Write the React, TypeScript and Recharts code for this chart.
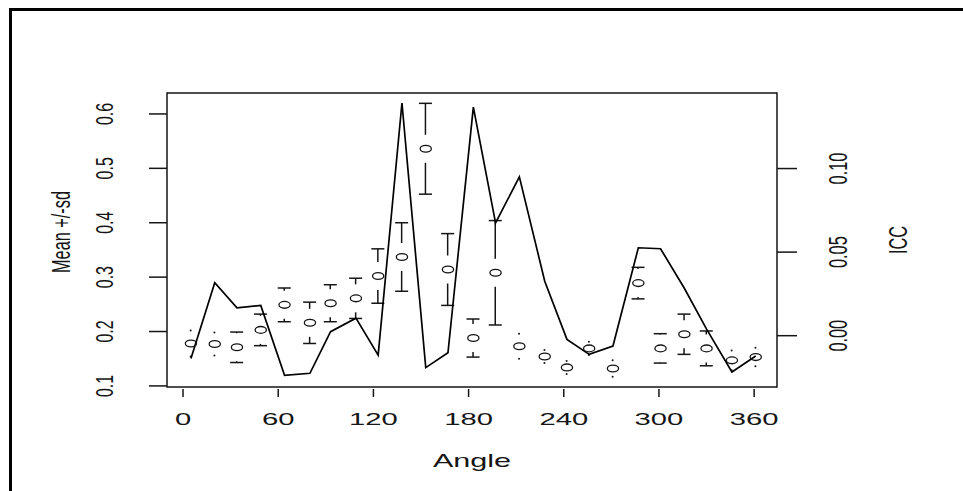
import React from 'react';
import { ComposedChart, Line, Scatter, Bar, XAxis, YAxis, ReferenceArea } from 'recharts';

const angles = [5, 20, 34, 49, 64, 80, 93, 109, 123, 138, 153, 167, 183, 197, 212, 228, 242, 256, 271, 287, 301, 316, 330, 346, 361];
const iccValues = [-0.0137, 0.0317, 0.0167, 0.0181, -0.0237, -0.0225, 0.0024, 0.0105, -0.0116, 0.1392, -0.0191, -0.0102, 0.1368, 0.0675, 0.095, 0.0326, -0.0022, -0.0112, -0.0062, 0.0526, 0.052, 0.0284, 0.0039, -0.0217, -0.0122];
const meanValues = [0.178, 0.177, 0.171, 0.203, 0.249, 0.216, 0.252, 0.261, 0.302, 0.337, 0.536, 0.314, 0.188, 0.308, 0.173, 0.154, 0.134, 0.169, 0.132, 0.289, 0.169, 0.195, 0.169, 0.147, 0.153];
const sdValues = [0.024, 0.021, 0.028, 0.029, 0.031, 0.038, 0.034, 0.037, 0.05, 0.063, 0.0835, 0.066, 0.035, 0.096, 0.023, 0.012, 0.012, 0.012, 0.015, 0.029, 0.027, 0.037, 0.032, 0.018, 0.017];

const xTicks = [0, 60, 120, 180, 240, 300, 360];
const leftTicks = [0.1, 0.2, 0.3, 0.4, 0.5, 0.6];
const rightTicks = [0, 0.05, 0.1];
const rightTickLabels = ['0.00', '0.05', '0.10'];

const xDomain = [-10.1, 374.4];
const leftDomain = [0.098, 0.6385];
const rightDomain = [-0.0307, 0.1452];

const data = angles.map((a, i) => ({
  angle: a,
  icc: iccValues[i],
  mean: meanValues[i],
  range: [meanValues[i] - sdValues[i], meanValues[i] + sdValues[i]],
}));

const FONT = '"Liberation Sans", Arial, Helvetica, sans-serif';
const INK = '#151515';

const XTick = (props: any) => {
  const { x, y, payload } = props;
  return (
    <g>
      <line x1={x} x2={x} y1={y + 2} y2={y + 10} stroke={INK} strokeWidth={1.5} />
      <text
        transform={`translate(${x},${y + 38}) scale(1.72,1)`}
        textAnchor="middle"
        fontFamily={FONT}
        fontSize={17}
        fill={INK}
      >
        {payload.value}
      </text>
    </g>
  );
};

const LeftTick = (props: any) => {
  const { x, y, payload } = props;
  return (
    <g>
      <line x1={x - 18} x2={x} y1={y} y2={y} stroke={INK} strokeWidth={1.5} />
      <text
        transform={`translate(${x - 54},${y}) rotate(-90) scale(1,1.5)`}
        textAnchor="middle"
        fontFamily={FONT}
        fontSize={16}
        fill={INK}
      >
        {String(payload.value)}
      </text>
    </g>
  );
};

const RightTick = (props: any) => {
  const { x, y, payload, index } = props;
  const lbl = rightTickLabels[rightTicks.indexOf(payload.value)] ?? String(payload.value);
  return (
    <g>
      <line x1={x} x2={x + 20} y1={y} y2={y} stroke={INK} strokeWidth={1.5} />
      <text
        transform={`translate(${x + 70},${y}) rotate(-90) scale(1,1.6)`}
        textAnchor="middle"
        fontFamily={FONT}
        fontSize={16.3}
        fill={INK}
      >
        {lbl}
      </text>
    </g>
  );
};

const MeanShape = (props: any) => {
  const { cx, cy } = props;
  if (cx == null || cy == null) return null;
  return <ellipse cx={cx} cy={cy} rx={5.6} ry={3.4} fill="none" stroke={INK} strokeWidth={1.3} />;
};

const GAP = 14;
const CAP = 6.5;

const ErrShape = (props: any) => {
  const { x, y, width, height } = props;
  if (x == null || y == null) return null;
  const cx = x + width / 2;
  const top = Math.min(y, y + height);
  const h = Math.abs(height);
  const center = top + h / 2;
  const bottom = top + h;
  const half = h / 2;
  const parts: any[] = [];
  if (half > GAP) {
    parts.push(<line key="u" x1={cx} x2={cx} y1={top} y2={center - GAP} stroke={INK} strokeWidth={1.5} />);
    parts.push(<line key="uc" x1={cx - CAP} x2={cx + CAP} y1={top} y2={top} stroke={INK} strokeWidth={1.5} />);
    parts.push(<line key="l" x1={cx} x2={cx} y1={center + GAP} y2={bottom} stroke={INK} strokeWidth={1.5} />);
    parts.push(<line key="lc" x1={cx - CAP} x2={cx + CAP} y1={bottom} y2={bottom} stroke={INK} strokeWidth={1.5} />);
  } else {
    parts.push(<circle key="ud" cx={cx} cy={top} r={1} fill={INK} />);
    parts.push(<circle key="ld" cx={cx} cy={bottom} r={1} fill={INK} />);
  }
  return <g>{parts}</g>;
};

export default function App() {
  return (
    <div style={{ position: 'absolute', left: 0, top: 0, width: 963, height: 491, background: '#fff' }}>
      <div
        style={{
          position: 'absolute',
          left: 9,
          top: 8,
          right: 0,
          bottom: 0,
          borderTop: '3px solid #000',
          borderLeft: '3px solid #000',
        }}
      />
      <div style={{ position: 'absolute', left: 0, top: 0 }}>
        <ComposedChart width={963} height={491} data={data} margin={{ top: 93, right: 86, bottom: 44, left: 67 }}>
          <XAxis
            dataKey="angle"
            type="number"
            domain={xDomain}
            ticks={xTicks}
            interval={0}
            allowDataOverflow
            axisLine={false}
            tickLine={false}
            tickSize={0}
            tickMargin={0}
            height={60}
            tick={<XTick />}
            label={(p: any) => {
              const vb = p.viewBox;
              return (
                <text
                  transform={`translate(${vb.x + vb.width / 2},${vb.y + 79.5}) scale(1.7,1)`}
                  textAnchor="middle"
                  fontFamily={FONT}
                  fontSize={18}
                  fill={INK}
                >
                  Angle
                </text>
              );
            }}
          />
          <YAxis
            yAxisId="left"
            domain={leftDomain}
            ticks={leftTicks}
            interval={0}
            allowDataOverflow
            axisLine={false}
            tickLine={false}
            tickSize={0}
            tickMargin={0}
            width={100}
            tick={<LeftTick />}
            label={(p: any) => {
              const vb = p.viewBox;
              return (
                <text
                  transform={`translate(${vb.x + 3},${vb.y + vb.height / 2 - 8}) rotate(-90) scale(1,1.55)`}
                  textAnchor="middle"
                  fontFamily={FONT}
                  fontSize={16.3}
                  fill={INK}
                >
                  Mean +/-sd
                </text>
              );
            }}
          />
          <YAxis
            yAxisId="right"
            orientation="right"
            domain={rightDomain}
            ticks={rightTicks}
            interval={0}
            allowDataOverflow
            axisLine={false}
            tickLine={false}
            tickSize={0}
            tickMargin={0}
            width={100}
            tick={<RightTick />}
            label={(p: any) => {
              const vb = p.viewBox;
              return (
                <text
                  transform={`translate(${vb.x + 130},${vb.y + vb.height / 2}) rotate(-90) scale(1,1.6)`}
                  textAnchor="middle"
                  fontFamily={FONT}
                  fontSize={16.3}
                  fill={INK}
                >
                  ICC
                </text>
              );
            }}
          />
          <ReferenceArea
            yAxisId="left"
            x1={xDomain[0]}
            x2={xDomain[1]}
            y1={leftDomain[0]}
            y2={leftDomain[1]}
            fill="none"
            fillOpacity={0}
            stroke={INK}
            strokeWidth={1.5}
            ifOverflow="visible"
          />
          <Bar yAxisId="left" dataKey="range" barSize={14} shape={<ErrShape />} isAnimationActive={false} />
          <Line
            yAxisId="right"
            dataKey="icc"
            type="linear"
            stroke="#000"
            strokeWidth={1.7}
            dot={false}
            activeDot={false}
            isAnimationActive={false}
          />
          <Scatter yAxisId="left" dataKey="mean" shape={<MeanShape />} isAnimationActive={false} />
        </ComposedChart>
      </div>
    </div>
  );
}
